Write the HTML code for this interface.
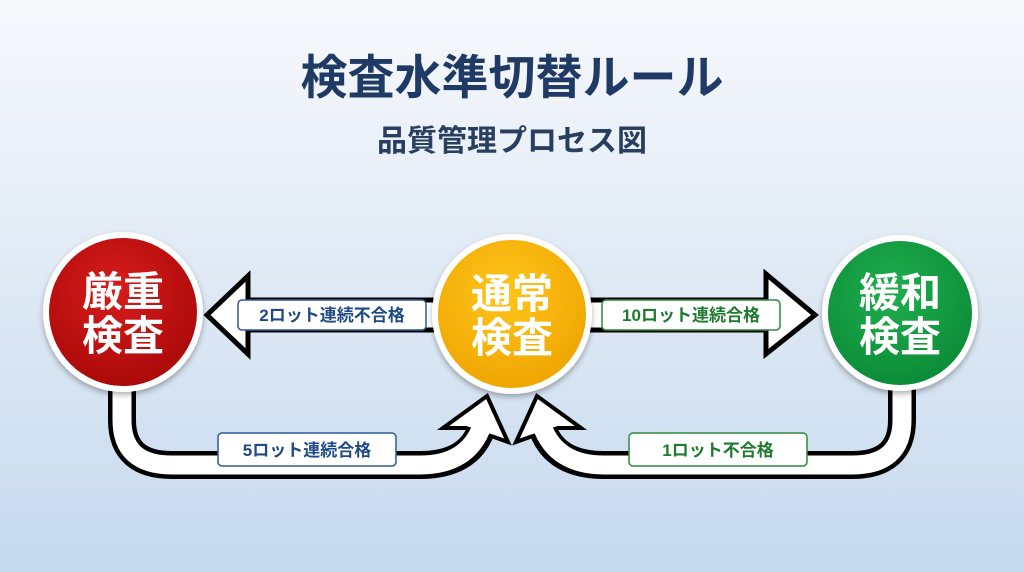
<!DOCTYPE html>
<html><head><meta charset="utf-8"><style>
html,body{margin:0;padding:0}
body{width:1024px;height:572px;overflow:hidden;background:linear-gradient(#f7f9fc 0%,#e6eef7 35%,#c6d9ee 100%);font-family:"Liberation Sans","Noto Sans CJK JP",sans-serif}
</style></head><body>
<svg width="1024" height="572" viewBox="0 0 1024 572" xmlns="http://www.w3.org/2000/svg" style="position:absolute;left:0;top:0">
<defs>
<radialGradient id="gr" cx="45%" cy="35%" r="70%"><stop offset="0" stop-color="#d81c1c"/><stop offset="1" stop-color="#a80808"/></radialGradient>
<radialGradient id="gy" cx="45%" cy="35%" r="70%"><stop offset="0" stop-color="#ffc51a"/><stop offset="1" stop-color="#eea400"/></radialGradient>
<radialGradient id="gg" cx="45%" cy="35%" r="70%"><stop offset="0" stop-color="#1fae4e"/><stop offset="1" stop-color="#0a8a36"/></radialGradient>
<filter id="sh" x="-20%" y="-20%" width="140%" height="140%"><feDropShadow dx="0" dy="3" stdDeviation="3" flood-opacity="0.3"/></filter>
</defs>
<text x="512" y="94" text-anchor="middle" font-size="47" font-weight="bold" fill="#1f3a64" font-family="Liberation Sans,Noto Sans CJK JP,sans-serif">検査水準切替ルール</text>
<text x="512" y="151" text-anchor="middle" font-size="30" font-weight="bold" fill="#2a3f5f" font-family="Liberation Sans,Noto Sans CJK JP,sans-serif">品質管理プロセス図</text>

<!-- bottom curved arrows -->
<g fill="none" stroke-linejoin="round">
<path d="M122,385 V420 Q122,465 172,465 H420 Q468,465 481,430" stroke="#000" stroke-width="28"/>
<path d="M902,385 V420 Q902,465 852,465 H604 Q556,465 543,430" stroke="#000" stroke-width="28"/>
</g>
<polygon points="487,396 508,442 494,437 466,428 443,428" fill="#fff" stroke="#000" stroke-width="4" stroke-linejoin="miter"/>
<polygon points="537,396 516,442 530,437 558,428 581,428" fill="#fff" stroke="#000" stroke-width="4" stroke-linejoin="miter"/>
<g fill="none">
<path d="M122,385 V420 Q122,465 172,465 H420 Q468,465 482,426" stroke="#fff" stroke-width="19"/>
<path d="M902,385 V420 Q902,465 852,465 H604 Q556,465 542,426" stroke="#fff" stroke-width="19"/>
</g>

<!-- horizontal arrows -->
<polygon points="440,300 248,300 248,276 207,315 248,354 248,330 440,330" fill="#fff" stroke="#000" stroke-width="5"/>
<polygon points="584,300 766,300 766,274 815,315 766,354 766,330 584,330" fill="#fff" stroke="#000" stroke-width="5"/>

<!-- labels -->
<g font-family="Liberation Sans,Noto Sans CJK JP,sans-serif" font-size="17" font-weight="bold" text-anchor="middle">
<rect x="238" y="300" width="188" height="30" rx="4" fill="#fff" stroke="#2c5a96" stroke-width="1.5"/>
<text x="332" y="321" fill="#1f4a86">2ロット連続不合格</text>
<rect x="602" y="300" width="178" height="30" rx="4" fill="#fff" stroke="#2e8a3e" stroke-width="1.5"/>
<text x="691" y="321" fill="#1e7a2e">10ロット連続合格</text>
<rect x="218" y="433" width="178" height="33" rx="4" fill="#fff" stroke="#2c5a96" stroke-width="1.5"/>
<text x="307" y="456" fill="#1f4a86">5ロット連続合格</text>
<rect x="629" y="433" width="178" height="33" rx="4" fill="#fff" stroke="#2e8a3e" stroke-width="1.5"/>
<text x="718" y="456" fill="#1e7a2e">1ロット不合格</text>
</g>

<!-- circles -->
<g filter="url(#sh)">
<circle cx="123" cy="312" r="80" fill="#fff"/>
<circle cx="512" cy="314" r="80" fill="#fff"/>
<circle cx="900" cy="313" r="78" fill="#fff"/>
</g>
<circle cx="123" cy="312" r="74" fill="url(#gr)"/>
<circle cx="512" cy="314" r="74" fill="url(#gy)"/>
<circle cx="900" cy="313" r="72" fill="url(#gg)"/>
<g font-family="Liberation Sans,Noto Sans CJK JP,sans-serif" font-size="41" font-weight="bold" text-anchor="middle" fill="#fff">
<text x="123" y="306">厳重</text><text x="123" y="350">検査</text>
<text x="512" y="308">通常</text><text x="512" y="352">検査</text>
<text x="900" y="307">緩和</text><text x="900" y="351">検査</text>
</g>
</svg>
</body></html>
